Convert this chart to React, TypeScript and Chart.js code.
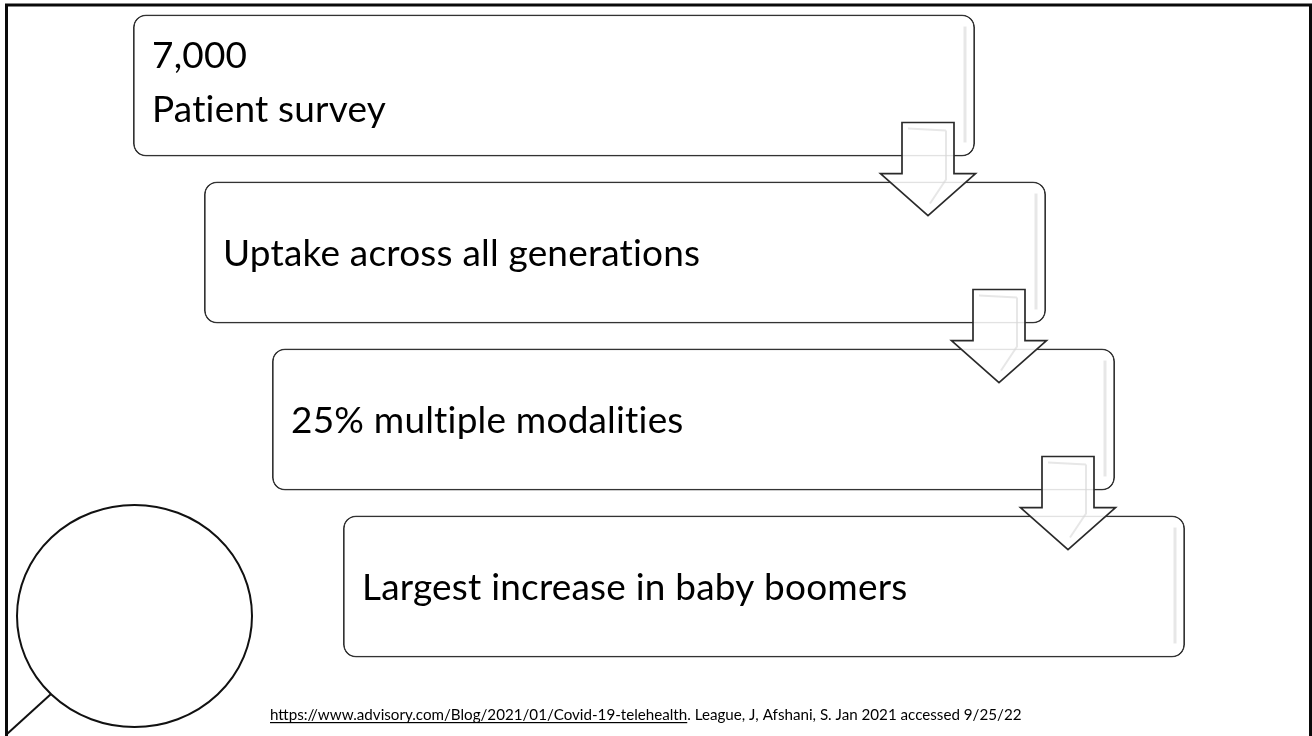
import React, { useEffect, useRef } from "react";
import { Chart, registerables } from "chart.js";

Chart.register(...registerables);

// Process steps (top to bottom) and the horizontal extent of each step box
const stepLines: string[][] = [
  ["7,000", "Patient survey"],
  ["Uptake across all generations"],
  ["25% multiple modalities"],
  ["Largest increase in baby boomers"],
];
const stepStart = [133, 204, 272, 343];
const stepEnd = [975, 1046, 1115, 1185];

const sourceLink = "https://www.advisory.com/Blog/2021/01/Covid-19-telehealth";
const sourceRest = ". League, J, Afshani, S. Jan 2021 accessed 9/25/22";

const FONT = "Lato, 'Noto Sans', sans-serif";

const diagramPlugin = {
  id: "diagram",
  beforeDraw(chart: any) {
    const { ctx, width, height } = chart;
    ctx.save();
    ctx.fillStyle = "#ffffff";
    ctx.fillRect(0, 0, width, height);
    ctx.restore();
  },
  afterDatasetsDraw(chart: any) {
    const ctx: any = chart.ctx;
    const meta = chart.getDatasetMeta(0);
    const bars = meta.data.map((el: any) => el.getProps(["x", "y", "base", "height"], true));

    // inner soft shading on the right side of each box
    ctx.save();
    bars.forEach((b: any) => {
      const right = Math.max(b.x, b.base);
      const top = b.y - b.height / 2;
      const bottom = b.y + b.height / 2;
      ctx.strokeStyle = "rgba(215,215,215,0.6)";
      ctx.lineWidth = 3;
      ctx.beginPath();
      ctx.moveTo(right - 10, top + 12);
      ctx.lineTo(right - 10, bottom - 14);
      ctx.stroke();
    });
    ctx.restore();

    // text inside boxes
    ctx.save();
    ctx.fillStyle = "#000";
    ctx.textBaseline = "alphabetic";
    ctx.textAlign = "left";
    ctx.letterSpacing = "0.2px";
    ctx.font = `40px ${FONT}`;
    const w = ctx.measureText("Largest increase in baby boomers").width;
    const size = (40 * 545) / w;
    ctx.font = `${size.toFixed(2)}px ${FONT}`;
    bars.forEach((b: any, i: number) => {
      const left = Math.min(b.x, b.base);
      const lines = stepLines[i];
      const n = lines.length;
      lines.forEach((t, j) => {
        const by = b.y + 13 + (j - (n - 1) / 2) * 54 - (n > 1 ? 4 : 0);
        ctx.fillText(t, left + 19, by);
      });
    });
    ctx.restore();

    // down arrows between boxes
    ctx.save();
    for (let i = 0; i < bars.length - 1; i++) {
      const a = bars[i];
      const b = bars[i + 1];
      const right = Math.max(a.x, a.base);
      const cx = right - 47;
      const top = a.y + a.height / 2 - 34;
      const tip = b.y - b.height / 2 + 34;
      const headY = tip - 42;
      const sh = 26;
      const hh = 47.5;
      const path = () => {
        ctx.beginPath();
        ctx.moveTo(cx - sh, top);
        ctx.lineTo(cx + sh, top);
        ctx.lineTo(cx + sh, headY);
        ctx.lineTo(cx + hh, headY);
        ctx.lineTo(cx, tip);
        ctx.lineTo(cx - hh, headY);
        ctx.lineTo(cx - sh, headY);
        ctx.closePath();
      };
      path();
      ctx.fillStyle = "rgba(255,255,255,0.86)";
      ctx.fill();
      // bevel hints
      ctx.strokeStyle = "rgba(215,215,215,0.6)";
      ctx.lineWidth = 2;
      ctx.beginPath();
      ctx.moveTo(cx + sh - 8, top + 8);
      ctx.lineTo(cx + sh - 8, headY + 6);
      ctx.lineTo(cx + 2, tip - 12);
      ctx.moveTo(cx - sh + 6, top + 6);
      ctx.lineTo(cx + sh - 8, top + 8);
      ctx.stroke();
      path();
      ctx.strokeStyle = "#2a2a2a";
      ctx.lineWidth = 1.7;
      ctx.lineJoin = "miter";
      ctx.stroke();
    }
    ctx.restore();

    // magnifier-like circle with handle
    ctx.save();
    ctx.strokeStyle = "#111";
    ctx.lineWidth = 2;
    ctx.beginPath();
    ctx.ellipse(134.5, 616, 117.5, 111, 0, 0, Math.PI * 2);
    ctx.stroke();
    ctx.beginPath();
    ctx.moveTo(51, 694);
    ctx.lineTo(7, 734);
    ctx.stroke();
    ctx.restore();

    // slide frame
    ctx.save();
    ctx.strokeStyle = "#0a0a0a";
    ctx.lineWidth = 3;
    ctx.beginPath();
    ctx.moveTo(6.5, 736);
    ctx.lineTo(6.5, 5);
    ctx.lineTo(1310.5, 5);
    ctx.lineTo(1310.5, 736);
    ctx.stroke();
    ctx.restore();

    // source footnote
    ctx.save();
    ctx.fillStyle = "#000";
    ctx.font = `14px ${FONT}`;
    const fw = ctx.measureText(sourceLink + sourceRest).width;
    const fs = (14 * 752) / fw;
    ctx.font = `${fs.toFixed(2)}px ${FONT}`;
    const x0 = 270;
    const yb = 720;
    ctx.fillText(sourceLink, x0, yb);
    const lw = ctx.measureText(sourceLink).width;
    ctx.fillText(sourceRest, x0 + lw, yb);
    ctx.fillRect(x0, yb + 2, lw, 1.2);
    ctx.restore();
  },
};

export default function App() {
  const ref = useRef<HTMLCanvasElement | null>(null);
  useEffect(() => {
    if (!ref.current) return;
    const chart = new Chart(ref.current, {
      type: "bar",
      data: {
        labels: stepLines.map((l) => l.join(" ")),
        datasets: [
          {
            data: stepStart.map((s, i) => [s, stepEnd[i]]) as any,
            backgroundColor: "#ffffff",
            borderColor: "#333333",
            borderWidth: 1.8,
            borderRadius: 13,
            borderSkipped: false,
            barPercentage: 0.85,
            categoryPercentage: 1,
          },
        ],
      },
      options: {
        indexAxis: "y",
        responsive: true,
        maintainAspectRatio: false,
        animation: false,
        layout: { padding: { top: 2, bottom: 66, left: 0, right: 0 } },
        plugins: { legend: { display: false }, tooltip: { enabled: false } },
        events: [],
        scales: {
          x: { type: "linear", min: 0, max: 1312, display: false },
          y: { type: "category", display: false, offset: true },
        },
      },
      plugins: [diagramPlugin],
    });
    return () => chart.destroy();
  }, []);
  return (
    <div style={{ position: "fixed", left: 0, top: 0, width: 1312, height: 736, background: "#fff" }}>
      <canvas ref={ref} />
    </div>
  );
}
